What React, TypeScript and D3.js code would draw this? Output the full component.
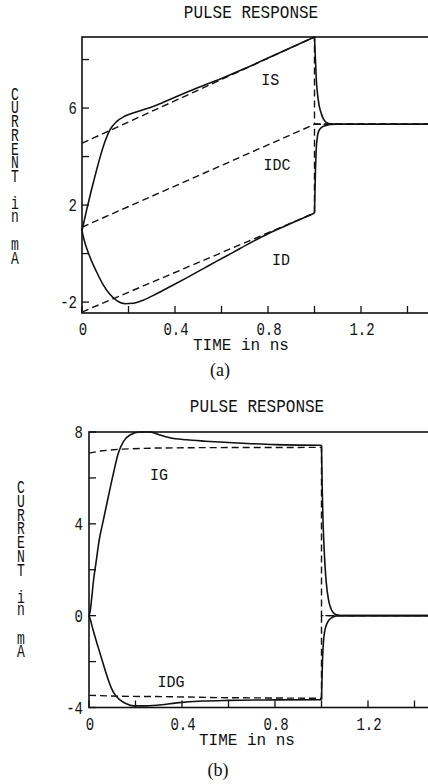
import React from 'react';
import * as d3 from 'd3';

type Pt = [number, number];

// ---- shared axis values ----
const TIME_TICKS = [0, 0.2, 0.4, 0.6, 0.8, 1.0, 1.2, 1.4];
const TIME_LABELS = [0, 0.4, 0.8, 1.2];
const TIME_DOMAIN: Pt = [0, 1.5];

// ---- panel (a): source / drain currents ----
const A_Y_DOMAIN: Pt = [-2.45, 8.93];
const A_Y_TICKS = [-2, 0, 2, 4, 6, 8];
const A_Y_LABELS = [-2, 2, 6];

const IS_ON: Pt[] = [
  [0, 0.95], [0.02, 1.8], [0.04, 2.6], [0.06, 3.35], [0.08, 4.05], [0.1, 4.65],
  [0.12, 5.1], [0.15, 5.45], [0.185, 5.67], [0.24, 5.86], [0.32, 6.12], [0.4, 6.45],
  [0.5, 6.85], [0.6, 7.22], [0.7, 7.63], [0.8, 8.06], [0.9, 8.5], [1.0, 8.93],
];
const IS_OFF: Pt[] = [
  [1.0, 8.93], [1.004, 8.0], [1.008, 7.15], [1.014, 6.5], [1.02, 6.1], [1.03, 5.75],
  [1.04, 5.52], [1.05, 5.41], [1.065, 5.35], [1.1, 5.33], [1.5, 5.33],
];
const ID_ON: Pt[] = [
  [0, 0.95], [0.006, 0.68], [0.034, -0.14], [0.063, -0.76], [0.092, -1.3], [0.12, -1.68],
  [0.15, -1.94], [0.185, -2.07], [0.22, -2.05], [0.263, -1.92], [0.32, -1.66], [0.38, -1.36],
  [0.45, -1.0], [0.52, -0.63], [0.58, -0.31], [0.65, 0.05], [0.72, 0.42], [0.8, 0.82],
  [0.9, 1.25], [1.0, 1.67],
];
const ID_OFF: Pt[] = [
  [1.0, 1.67], [1.002, 2.6], [1.004, 3.4], [1.007, 4.25], [1.012, 4.78], [1.018, 5.05],
  [1.03, 5.2], [1.05, 5.28], [1.07, 5.32], [1.1, 5.33], [1.5, 5.33],
];
const IS_DC: Pt[] = [[0, 4.55], [1.0, 8.93], [1.0, 5.33], [1.5, 5.33]];
const IDC_DC: Pt[] = [[0, 1.09], [1.0, 5.33], [1.5, 5.33]];
const ID_DC: Pt[] = [[0, -2.41], [1.0, 1.67], [1.0, 5.33], [1.5, 5.33]];

// ---- panel (b): gate currents ----
const B_Y_DOMAIN: Pt = [-4, 8];
const B_Y_TICKS = [-4, -2, 0, 2, 4, 6, 8];
const B_Y_LABELS = [-4, 0, 4, 8];

const IG_ON: Pt[] = [
  [0, 0], [0.005, 0.2], [0.012, 0.8], [0.019, 1.5], [0.03, 2.3], [0.044, 3.3],
  [0.062, 4.17], [0.083, 5.18], [0.105, 6.2], [0.126, 7.07], [0.148, 7.58], [0.176, 7.87],
  [0.219, 8.0], [0.262, 8.0], [0.305, 7.87], [0.348, 7.75], [0.42, 7.66], [0.5, 7.6],
  [0.6, 7.54], [0.7, 7.49], [0.8, 7.45], [0.9, 7.43], [1.0, 7.42],
];
const IG_OFF: Pt[] = [
  [1.0, 7.42], [1.003, 5.6], [1.006, 4.3], [1.01, 3.2], [1.015, 2.2], [1.02, 1.5],
  [1.03, 0.7], [1.04, 0.32], [1.05, 0.14], [1.065, 0.04], [1.1, 0], [1.5, 0],
];
const IDG_ON: Pt[] = [
  [0, 0], [0.005, -0.15], [0.017, -0.6], [0.039, -1.36], [0.06, -2.06], [0.083, -2.8],
  [0.104, -3.32], [0.133, -3.67], [0.163, -3.85], [0.19, -3.93], [0.233, -3.93],
  [0.292, -3.9], [0.377, -3.8], [0.49, -3.72], [0.6, -3.69], [0.8, -3.67], [1.0, -3.66],
];
const IDG_OFF: Pt[] = [
  [1.0, -3.66], [1.002, -2.8], [1.004, -2.05], [1.007, -1.35], [1.01, -0.95], [1.015, -0.62],
  [1.022, -0.38], [1.03, -0.22], [1.045, -0.08], [1.065, -0.01], [1.1, 0], [1.5, 0],
];
const IG_DC: Pt[] = [
  [0, 7.08], [0.047, 7.17], [0.133, 7.25], [0.28, 7.3], [0.5, 7.32], [1.0, 7.33], [1.0, 0], [1.5, 0],
];
const IDG_DC: Pt[] = [
  [0, -3.47], [0.133, -3.51], [0.35, -3.53], [0.56, -3.57], [1.0, -3.6], [1.0, 0], [1.5, 0],
];

const TITLE = 'PULSE RESPONSE';
const X_TITLE = 'TIME in ns';
const Y_TITLE = 'CURRENT in mA';

const MONO = "'Liberation Mono', 'DejaVu Sans Mono', monospace";
const SERIF = "'Liberation Serif', 'DejaVu Serif', serif";
const INK = '#111';

// vertical offsets of the stacked y-title glyphs (C U R R E N T . i n . m A)
const STACK_OFFSETS = [0, 13.8, 27.6, 41.4, 55.2, 69, 82.8, 110, 122.5, 151, 164.5];

type CurveLabel = { text: string; t: number; v: number };

type PanelProps = {
  left: number;
  top: number;
  bottom: number;
  pxPerNs: number;
  yDomain: Pt;
  yTicks: number[];
  yLabels: number[];
  solids: Pt[][];
  dashed: Pt[][];
  labels: CurveLabel[];
  titleY: number;
  titleX: number;
  tickLabelY: number;
  yLabelRight: number;
  xTitleX: number;
  xTitleY: number;
  stackX: number;
  stackTop: number;
  caption: string;
  captionX: number;
  captionY: number;
};

function Txt(props: {
  x: number; y: number; text: string; size: number; sy: number;
  anchor?: string; family?: string;
}) {
  const { x, y, text, size, sy, anchor = 'middle', family = MONO } = props;
  return (
    <text
      transform={`translate(${x},${y}) scale(1,${sy})`}
      fontFamily={family}
      fontSize={size}
      textAnchor={anchor}
      fill={INK}
    >
      {text}
    </text>
  );
}

// y title written as a column of upright glyphs inside one text element
function StackedTitle(props: { x: number; top: number; sy: number }) {
  const letters = Y_TITLE.replace(/ /g, '').split('');
  return (
    <text
      transform={`translate(${props.x},${props.top}) scale(1,${props.sy})`}
      fontFamily={MONO}
      fontSize={13}
      textAnchor="middle"
      fill={INK}
    >
      {letters.map((c, i) => (
        <tspan key={i} x={0} y={STACK_OFFSETS[i] / props.sy}>{c}</tspan>
      ))}
    </text>
  );
}

function Panel(p: PanelProps) {
  const x = d3.scaleLinear().domain(TIME_DOMAIN).range([p.left, p.left + p.pxPerNs * 1.5]);
  const y = d3.scaleLinear().domain(p.yDomain).range([p.bottom, p.top]);
  const smooth = d3.line<Pt>().x(d => x(d[0])).y(d => y(d[1])).curve(d3.curveMonotoneX);
  const straight = d3.line<Pt>().x(d => x(d[0])).y(d => y(d[1]));
  const tickLen = 7;

  return (
    <g>
      <Txt x={p.titleX} y={p.titleY} text={TITLE} size={16} sy={1.15} />

      {/* frame */}
      <rect
        x={x(TIME_DOMAIN[0])}
        y={p.top}
        width={x(TIME_DOMAIN[1]) - x(TIME_DOMAIN[0])}
        height={p.bottom - p.top}
        fill="none"
        stroke={INK}
        strokeWidth={1.6}
      />

      {/* inward ticks */}
      {TIME_TICKS.map(t => (
        <line key={`xt${t}`} x1={x(t)} x2={x(t)} y1={p.bottom} y2={p.bottom - tickLen}
          stroke={INK} strokeWidth={1.3} />
      ))}
      {p.yTicks.map(v => (
        <line key={`yt${v}`} x1={p.left} x2={p.left + tickLen} y1={y(v)} y2={y(v)}
          stroke={INK} strokeWidth={1.3} />
      ))}

      {/* tick labels */}
      {TIME_LABELS.map(t => (
        <Txt key={`xl${t}`} x={x(t) + 1} y={p.tickLabelY} text={String(t)} size={14} sy={1.3} />
      ))}
      {p.yLabels.map(v => (
        <Txt key={`yl${v}`} x={p.yLabelRight} y={y(v) + 6} text={String(v)} size={14} sy={1.35}
          anchor="end" />
      ))}

      <Txt x={p.xTitleX} y={p.xTitleY} text={X_TITLE} size={16} sy={1.05} />

      <StackedTitle x={p.stackX} top={p.stackTop} sy={1.35} />

      {/* curves */}
      {p.dashed.map((d, i) => (
        <path key={`d${i}`} d={straight(d) || ''} fill="none" stroke={INK} strokeWidth={1.4}
          strokeDasharray="7,4" />
      ))}
      {p.solids.map((d, i) => (
        <path key={`s${i}`} d={smooth(d) || ''} fill="none" stroke={INK} strokeWidth={1.6} />
      ))}

      {p.labels.map(l => (
        <Txt key={l.text} x={x(l.t)} y={y(l.v)} text={l.text} size={15} sy={1.15} />
      ))}

      <Txt x={p.captionX} y={p.captionY} text={p.caption} size={18} sy={1} family={SERIF} />
    </g>
  );
}

export default function App() {
  return (
    <svg
      width={428}
      height={784}
      viewBox="0 0 428 784"
      style={{ position: 'absolute', left: 0, top: 0, background: '#fff' }}
    >
      <rect x={0} y={0} width={428} height={784} fill="#fff" />
      <Panel
        left={82}
        top={37}
        bottom={313}
        pxPerNs={232.5}
        yDomain={A_Y_DOMAIN}
        yTicks={A_Y_TICKS}
        yLabels={A_Y_LABELS}
        solids={[IS_ON, IS_OFF, ID_ON, ID_OFF]}
        dashed={[IS_DC, IDC_DC, ID_DC]}
        labels={[
          { text: 'IS', t: 0.81, v: 6.95 },
          { text: 'IDC', t: 0.839, v: 3.44 },
          { text: 'ID', t: 0.856, v: -0.47 },
        ]}
        titleX={251}
        titleY={18}
        tickLabelY={335}
        yLabelRight={77}
        xTitleX={241}
        xTitleY={350}
        stackX={15}
        stackTop={99.5}
        caption="(a)"
        captionX={220}
        captionY={376}
      />
      <Panel
        left={89}
        top={432}
        bottom={707.5}
        pxPerNs={232.5}
        yDomain={B_Y_DOMAIN}
        yTicks={B_Y_TICKS}
        yLabels={B_Y_LABELS}
        solids={[IG_ON, IG_OFF, IDG_ON, IDG_OFF]}
        dashed={[IG_DC, IDG_DC]}
        labels={[
          { text: 'IG', t: 0.301, v: 5.91 },
          { text: 'IDG', t: 0.353, v: -3.1 },
        ]}
        titleX={257}
        titleY={412}
        tickLabelY={730}
        yLabelRight={83}
        xTitleX={247}
        xTitleY={745}
        stackX={21}
        stackTop={493}
        caption="(b)"
        captionX={218}
        captionY={776}
      />
    </svg>
  );
}
